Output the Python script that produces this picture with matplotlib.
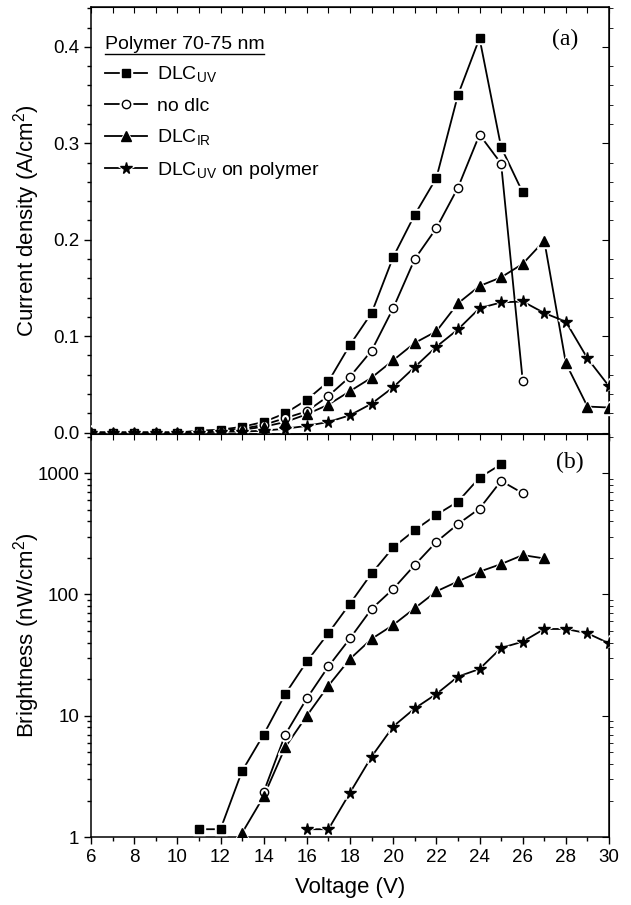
import numpy as np
import matplotlib
matplotlib.use("Agg")
import matplotlib.pyplot as plt
from matplotlib.ticker import MultipleLocator, LogLocator, FixedLocator, NullFormatter
from matplotlib.lines import Line2D

plt.rcParams['font.family'] = ['Liberation Sans', 'DejaVu Sans']
plt.rcParams['mathtext.fontset'] = 'custom'
plt.rcParams['mathtext.rm'] = 'Liberation Sans'

# ---------- data: (a) current density ----------
v_uv_j = np.arange(6, 27)
j_uv = [0, 0, 0, 0, 0, 0.002, 0.003, 0.006, 0.011, 0.020, 0.034, 0.053, 0.091,
        0.124, 0.182, 0.226, 0.264, 0.350, 0.409, 0.296, 0.249]
v_nodlc_j = np.arange(6, 27)
j_nodlc = [0, 0, 0, 0, 0, 0.001, 0.002, 0.004, 0.008, 0.015, 0.022, 0.038, 0.058,
           0.085, 0.129, 0.180, 0.212, 0.254, 0.309, 0.279, 0.054]
v_ir_j = np.arange(6, 31)
j_ir = [0, 0, 0, 0, 0, 0.001, 0.002, 0.003, 0.006, 0.011, 0.019, 0.029, 0.043,
        0.057, 0.075, 0.093, 0.105, 0.134, 0.152, 0.161, 0.175, 0.199, 0.072, 0.027, 0.026]
v_poly_j = np.arange(6, 31)
j_poly = [0, 0, 0, 0, 0, 0, 0.001, 0.001, 0.002, 0.004, 0.007, 0.011, 0.018,
          0.030, 0.047, 0.068, 0.089, 0.107, 0.129, 0.135, 0.136, 0.124, 0.115, 0.077, 0.048]

# ---------- data: (b) brightness ----------
v_uv_b = np.arange(11, 26)
b_uv = [1.16, 1.16, 3.5, 7.0, 15.1, 28, 48, 84, 149, 244, 339, 453, 582, 918, 1183]
v_nodlc_b = np.arange(14, 27)
b_nodlc = [2.35, 7.0, 13.9, 25.5, 43.4, 76, 111, 175, 271, 380, 510, 863, 683]
v_ir_b = np.arange(13, 28)
b_ir = [1.08, 2.16, 5.5, 10, 17.7, 29.4, 43, 56, 77, 106, 128, 154, 178, 211, 198]
v_poly_b = np.arange(16, 31)
b_poly = [1.16, 1.16, 2.32, 4.6, 8.15, 11.5, 15.1, 21, 24.3, 36.2, 40.8, 51.9, 51.9, 47.8, 39.5]

labels = ["DLC$_{\\mathrm{UV}}$", "no dlc", "DLC$_{\\mathrm{IR}}$", "DLC$_{\\mathrm{UV}}$ on polymer"]
styles = [dict(marker='s', ms=5.5, mfc='black'),
          dict(marker='o', ms=6, mfc='white'),
          dict(marker='^', ms=7, mfc='black'),
          dict(marker='*', ms=8.5, mfc='black')]

fig = plt.figure(figsize=(6.31, 9.05), dpi=100)
ax1 = fig.add_axes([0.1442, 0.5204, 0.821, 0.4715])
ax2 = fig.add_axes([0.1442, 0.0751, 0.821, 0.4453])

series_j = [(v_uv_j, j_uv), (v_nodlc_j, j_nodlc), (v_ir_j, j_ir), (v_poly_j, j_poly)]
series_b = [(v_uv_b, b_uv), (v_nodlc_b, b_nodlc), (v_ir_b, b_ir), (v_poly_b, b_poly)]


def draw(ax, x, y, st):
    # line, then a white halo behind each marker (gap like the original), then the marker
    ln, = ax.plot(x, y, color='black', lw=1.3, zorder=2)
    halo, = ax.plot(x, y, ls='none', marker=st['marker'], ms=st['ms'] + 3,
                    mfc='white', mec='white', zorder=3)
    mk, = ax.plot(x, y, ls='none', mec='black', mew=1.0, zorder=4, **st)
    return (ln, halo, mk)


handles = []
for (x, y), st in zip(series_j, styles):
    handles.append(draw(ax1, x, y, st))
for (x, y), st in zip(series_b, styles):
    draw(ax2, x, y, st)

# ---------- axes (a) ----------
ax1.set_xlim(6, 30)
ax1.set_ylim(-0.0015, 0.441)
ax1.yaxis.set_major_locator(MultipleLocator(0.1))
ax1.yaxis.set_minor_locator(MultipleLocator(0.02))
ax1.yaxis.set_major_formatter(plt.FuncFormatter(lambda v, p: f"{v:.1f}"))
ax1.xaxis.set_major_locator(MultipleLocator(2))
ax1.xaxis.set_minor_locator(MultipleLocator(1))
ax1.tick_params(axis='x', labelbottom=False)
ax1.set_ylabel("Current density (A/cm$^2$)", fontsize=16)
ax1.text(0.915, 0.925, "(a)", transform=ax1.transAxes, fontsize=17,
         family='Liberation Serif', ha='center', va='center')

# ---------- axes (b) ----------
ax2.set_yscale('log')
ax2.set_xlim(6, 30)
ax2.set_ylim(1, 2100)
ax2.yaxis.set_major_locator(FixedLocator([1, 10, 100, 1000]))
ax2.yaxis.set_major_formatter(plt.FuncFormatter(lambda v, p: f"{v:g}"))
ax2.yaxis.set_minor_locator(LogLocator(base=10, subs=np.arange(2, 10)))
ax2.yaxis.set_minor_formatter(NullFormatter())
ax2.xaxis.set_major_locator(MultipleLocator(2))
ax2.xaxis.set_minor_locator(MultipleLocator(1))
ax2.set_xlabel("Voltage (V)", fontsize=16, labelpad=8)
ax2.set_ylabel("Brightness (nW/cm$^2$)", fontsize=16)
ax2.text(0.925, 0.93, "(b)", transform=ax2.transAxes, fontsize=17,
         family='Liberation Serif', ha='center', va='center')

for ax in (ax1, ax2):
    ax.tick_params(which='both', direction='out', labelsize=13.5, width=1)
    ax.tick_params(which='major', length=5)
    ax.tick_params(which='minor', length=3)
    for s in ax.spines.values():
        s.set_linewidth(1.1)
    # inner ticks on top and right, like the original plot
    sx = ax.secondary_xaxis('top')
    sx.xaxis.set_major_locator(MultipleLocator(1))
    sx.tick_params(direction='in', length=4, labeltop=False)
    sy = ax.secondary_yaxis('right')
    sy.yaxis.set_major_locator(ax.yaxis.get_major_locator())
    sy.yaxis.set_minor_locator(ax.yaxis.get_minor_locator())
    sy.tick_params(which='major', direction='in', length=5, labelright=False)
    sy.tick_params(which='minor', direction='out', length=3, labelright=False)

ax1.yaxis.set_label_coords(-0.095, 0.5)
ax2.yaxis.set_label_coords(-0.095, 0.5)

leg = ax1.legend(handles=handles, labels=labels, title="Polymer 70-75 nm", loc='upper left',
                 bbox_to_anchor=(0.0, 0.965), frameon=False, fontsize=14,
                 title_fontsize=14, alignment='left', handlelength=2.2,
                 handletextpad=0.5, labelspacing=0.63, borderaxespad=0.3)

# underline the legend title
fig.canvas.draw()
bb = leg.get_title().get_window_extent().transformed(fig.transFigure.inverted())
fig.add_artist(Line2D([bb.x0, bb.x1], [bb.y0 - 0.001, bb.y0 - 0.001],
                      color='black', lw=1.0, transform=fig.transFigure))

fig.savefig("out.png", dpi=100)
